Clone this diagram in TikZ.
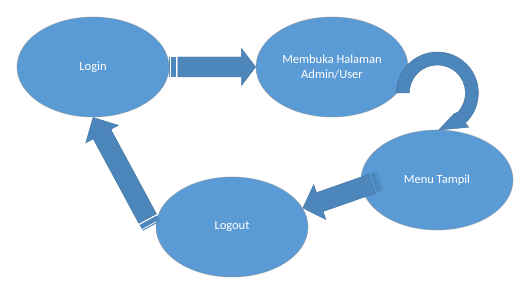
\documentclass[tikz,border=0pt]{standalone}
\usepackage{fontspec}
\setmainfont{Carlito}
\usetikzlibrary{calc,shapes.geometric}
\definecolor{ellfill}{HTML}{5B9BD5}
\definecolor{arrfill}{HTML}{4C86BB}
\definecolor{arrline}{HTML}{41719C}
\tikzset{
  state/.style={ellipse, fill=ellfill, draw=black!45, draw opacity=0.45, line width=0.8pt,
    minimum width=152pt, minimum height=100pt, inner sep=0pt, text=white,
    font=\fontsize{12.5}{15}\selectfont, align=center},
  arrstripe/.style={fill=arrfill},
  arrbody/.style={fill=arrfill, draw=arrline, line width=0.4pt, line join=miter},
}
\newcommand\blockarrow[3]{%
  \path let \p1=($(#2)-(#1)$) in \pgfextra{%
    \pgfmathsetmacro\tmpang{atan2(\y1,\x1)}%
    \pgfmathsetmacro\tmplen{veclen(\x1,\y1)}%
    \global\let\arang\tmpang \global\let\arlen\tmplen};
  \begin{scope}[shift={(#1)},rotate=\arang]
    \fill[arrstripe] (0,-10) rectangle (1,10);
    \fill[arrstripe] (2,-10) rectangle (6.7,10);
    \filldraw[arrbody] (8.4,-10) -- ({\arlen-#3},-10) -- ({\arlen-#3},-18.5) -- (\arlen,0)
      -- ({\arlen-#3},18.5) -- ({\arlen-#3},10) -- (8.4,10) -- cycle;
  \end{scope}}
\begin{document}
\begin{tikzpicture}[x=1pt,y=1pt]
\useasboundingbox (0,0) rectangle (530,-296);
\fill[white] (0,0) rectangle (530,-296);

\node[state] (login)   at (93,-67)   {Login};
\node[state] (membuka) at (332,-67)  {Membuka Halaman\\Admin/User};
\node[state] (menu)    at (437,-180) {Menu Tampil};
\node[state] (logout)  at (232,-227) {Logout};

% Login -> Membuka
\blockarrow{login.east}{membuka.west}{14}
% Menu -> Logout
\coordinate (t3) at ($(menu.center)+(-57,-1)$);
\blockarrow{t3}{logout.15}{18}
% Logout -> Login
\coordinate (t4) at ($(logout.west)+(-4,1)$);
\blockarrow{t4}{login.south}{19}

% curved arrow Membuka -> Menu
\coordinate (cc) at ($(membuka.east)+(29,-26)$);
\filldraw[arrbody] ($(cc)+(180:41)$) arc[start angle=180, end angle=-47, radius=41]
  -- ($(cc)+(-47.6:46.4)$) -- ($(cc)+(-88:37)$) -- ($(cc)+(-52:26.6)$)
  -- ($(cc)+(-43.5:28)$) arc[start angle=-43.5, end angle=180, radius=28] -- cycle;
\end{tikzpicture}
\end{document}
